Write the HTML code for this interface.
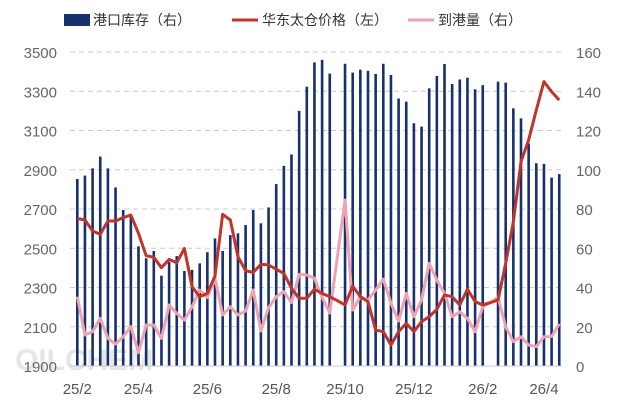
<!DOCTYPE html>
<html><head><meta charset="utf-8"><style>
body{margin:0;background:#fff;}
svg{display:block;font-family:"Liberation Sans","Noto Sans CJK SC",sans-serif;}
</style></head><body>
<svg id="c" width="628" height="406">
<text x="15" y="370" font-size="30" fill="#e6e6e6" font-weight="bold">OILCHEM</text>
<g id="legend">
<rect x="64" y="14" width="26" height="12" fill="#17306e"/>
<text x="93" y="25" font-size="14" fill="#333">港口库存（右）</text>
<line x1="232" y1="20" x2="258" y2="20" stroke="#c0342c" stroke-width="3"/>
<text x="262" y="25" font-size="14" fill="#333">华东太仓价格（左）</text>
<line x1="408" y1="20" x2="434" y2="20" stroke="#eea3b1" stroke-width="3"/>
<text x="438" y="25" font-size="14" fill="#333">到港量（右）</text>
</g>
<g id="grid"></g><g id="bars"></g><g id="lines"></g><g id="axes"></g>
</svg>
<script>
const xLabels=["25/2","25/4","25/6","25/8","25/10","25/12","26/2","26/4"];
const xLabelIdx=[0,8,17,26,35,44,53,61];
const leftTicks=[1900,2100,2300,2500,2700,2900,3100,3300,3500];
const rightTicks=[0,20,40,60,80,100,120,140,160];
const inventory=[95.3,97,100.7,106.7,100.7,91,79.5,77,61,54.9,58.6,46,53,56,48.4,49,52.3,58,65,58.6,66.7,67.6,71.8,79.5,72.7,80.8,92.7,102,107.8,130,142.3,154.7,156,149,null,154,149.5,151,150.4,148.8,154,148.3,136.3,134.7,123.7,122,141.5,147.8,153.9,143.7,146,146.9,141,143.1,null,144.9,144.4,131.3,126.2,113.4,103.3,103,96,97.8];
const price=[2652,2644,2588,2571,2639,2639,2656,2669,2576,2462,2454,2401,2443,2426,2499,2304,2253,2270,2359,2673,2644,2457,2386,2377,2418,2415,2393,2372,2296,2245,2245,2291,2270,2253,2233,2211,2308,2253,2228,2083,2075,2007,2075,2117,2075,2126,2151,2189,2262,2253,2211,2291,2228,2211,2223,2236,2423,2635,2941,3052,3204,3349,3298,3255];
const arrivals=[35.3,15.8,17.5,24.3,14.1,11.2,14.9,20,6.8,20.9,20.9,14.1,31.1,26.8,23.4,30.2,38.7,34.8,44.7,26,30.2,26,28,38.7,17.8,29.7,35.3,37.9,32.3,46.7,46.4,44.7,35,27,55.7,84.6,28.5,35.3,33.6,38.7,44.2,32,22.9,37,25.1,33.6,52.3,43.8,37,25.1,27.6,24.3,17.5,30.2,32.3,35,20,12.4,14.9,10.7,9.9,14.9,15,21.4];
const NS="http://www.w3.org/2000/svg";
const X0=77.3,DX=7.65,YT=52,YB=366;
const xs=i=>X0+i*DX;
const yL=v=>YB-(v-1900)/1600*(YB-YT);
const yR=v=>YB-v/160*(YB-YT);
function mk(t,a,p){const e=document.createElementNS(NS,t);for(const k in a)e.setAttribute(k,a[k]);document.getElementById(p).appendChild(e);return e;}
leftTicks.forEach((v,i)=>{
 if(i>0){const g=mk('line',{x1:70,x2:562,y1:yL(v),y2:yL(v),stroke:'#ccc','stroke-dasharray':'5,4'},'grid');
 
 }
 const t=mk('text',{x:57,y:yL(v)+6,'font-size':15,fill:'#666','text-anchor':'end'},'axes');t.textContent=v;
 
 
});
rightTicks.forEach(v=>{const t=mk('text',{x:576,y:yR(v)+6,'font-size':15,fill:'#666'},'axes');t.textContent=v;
 
 });
const ax=mk('line',{x1:70,x2:562,y1:YB,y2:YB,stroke:'#ccc'},'axes');


xLabels.forEach((l,i)=>{const t=mk('text',{x:xs(xLabelIdx[i]),y:394,'font-size':15,fill:'#555','text-anchor':'middle'},'axes');t.textContent=l;
 
 });
inventory.forEach((v,i)=>{if(v==null)return;const b=mk('rect',{x:xs(i)-1.3,y:yR(v),width:2.6,height:YB-yR(v),fill:'#17306e'},'bars');
 
 });
const pp=mk('polyline',{points:arrivals.map((v,i)=>xs(i)+','+yR(v)).join(' '),fill:'none',stroke:'#eea3b1','stroke-width':3,'stroke-linejoin':'round'},'lines');


const rp=mk('polyline',{points:price.map((v,i)=>xs(i)+','+yL(v)).join(' '),fill:'none',stroke:'#c0342c','stroke-width':3,'stroke-linejoin':'round'},'lines');


</script>
</body></html>
